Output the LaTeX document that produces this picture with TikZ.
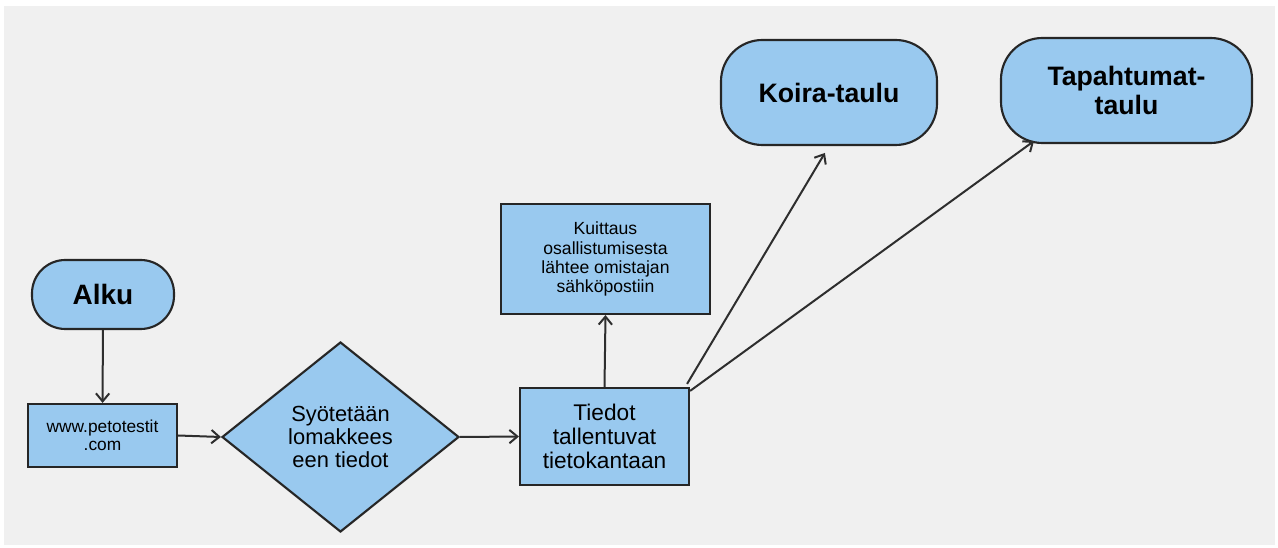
\documentclass[tikz,border=0pt]{standalone}
\usepackage{fontspec}
\setmainfont{Liberation Sans}
\usepackage{tikz}
\usetikzlibrary{calc,arrows.meta,shapes.geometric}
\definecolor{boxblue}{HTML}{99C9EF}
\definecolor{edgex}{HTML}{262626}
\definecolor{arrowx}{HTML}{2E2E2E}
\definecolor{bgx}{HTML}{F0F0F0}
\tikzset{
  ar/.style={-{Straight Barb[length=6pt,width=10pt,line width=1.5pt]},line width=1.5pt,arrowx},
  term/.style={draw=edgex,line width=1.6pt,fill=boxblue,rounded corners=31pt,align=center,inner sep=0pt,font=\bfseries\fontsize{20}{22}\selectfont},
  proc/.style={draw=edgex,line width=1.6pt,fill=boxblue,align=center,inner sep=0pt},
  choice/.style={diamond,draw=edgex,line width=1.6pt,fill=boxblue,align=center,inner sep=0pt}
}
\begin{document}
\begin{tikzpicture}[x=0.75pt,y=-0.75pt]
\useasboundingbox (0,0) rectangle (1278,548);
\fill[white] (0,0) rectangle (1278,548);
\fill[bgx] (4,6) rectangle (1275,545);
% terminals
\node[term,rounded corners=25pt,minimum width=142*0.75pt,minimum height=69*0.75pt,font=\bfseries\fontsize{21}{23}\selectfont] (alku) at (103,294.5) {Alku};
\node[term,minimum width=216*0.75pt,minimum height=105*0.75pt] (koira) at (829,92.5) {Koira-taulu};
\node[term,minimum width=251*0.75pt,minimum height=105*0.75pt] (tapa) at (1126.5,90.5) {Tapahtumat-\\taulu};
% steps
\node[proc,minimum width=149*0.75pt,minimum height=63*0.75pt,font=\fontsize{13}{13.5}\selectfont] (www) at (102.5,435.5) {www.petotestit\\.com};
\node[choice,minimum width=237*0.75pt,minimum height=190*0.75pt,font=\fontsize{16.4}{17.5}\selectfont] (syot) at (340.5,437) {Syötetään\\lomakkees\\een tiedot};
\node[proc,minimum width=169*0.75pt,minimum height=97*0.75pt,font=\fontsize{17}{18}\selectfont] (tiedot) at (604.5,436.5) {Tiedot\\tallentuvat\\tietokantaan};
\node[proc,minimum width=209*0.75pt,minimum height=110*0.75pt,font=\fontsize{13.2}{14.3}\selectfont] (kuit) at (605.5,259) {Kuittaus\\osallistumisesta\\lähtee omistajan\\ sähköpostiin};
% arrows
\draw[ar] (alku) -- (www);
\draw[ar] (www.east) -- (syot.west);
\draw[ar] (syot.east) -- (tiedot.west);
\draw[ar] (tiedot.north) -- (kuit.south);
\draw[ar,shorten >=6pt] ($(tiedot.north east)+(-3,-3)$) -- (koira.south);
\draw[ar] ($(tiedot.north east)+(0,4)$) -- ($(tapa.south west)+(34,-3)$);
\end{tikzpicture}
\end{document}
